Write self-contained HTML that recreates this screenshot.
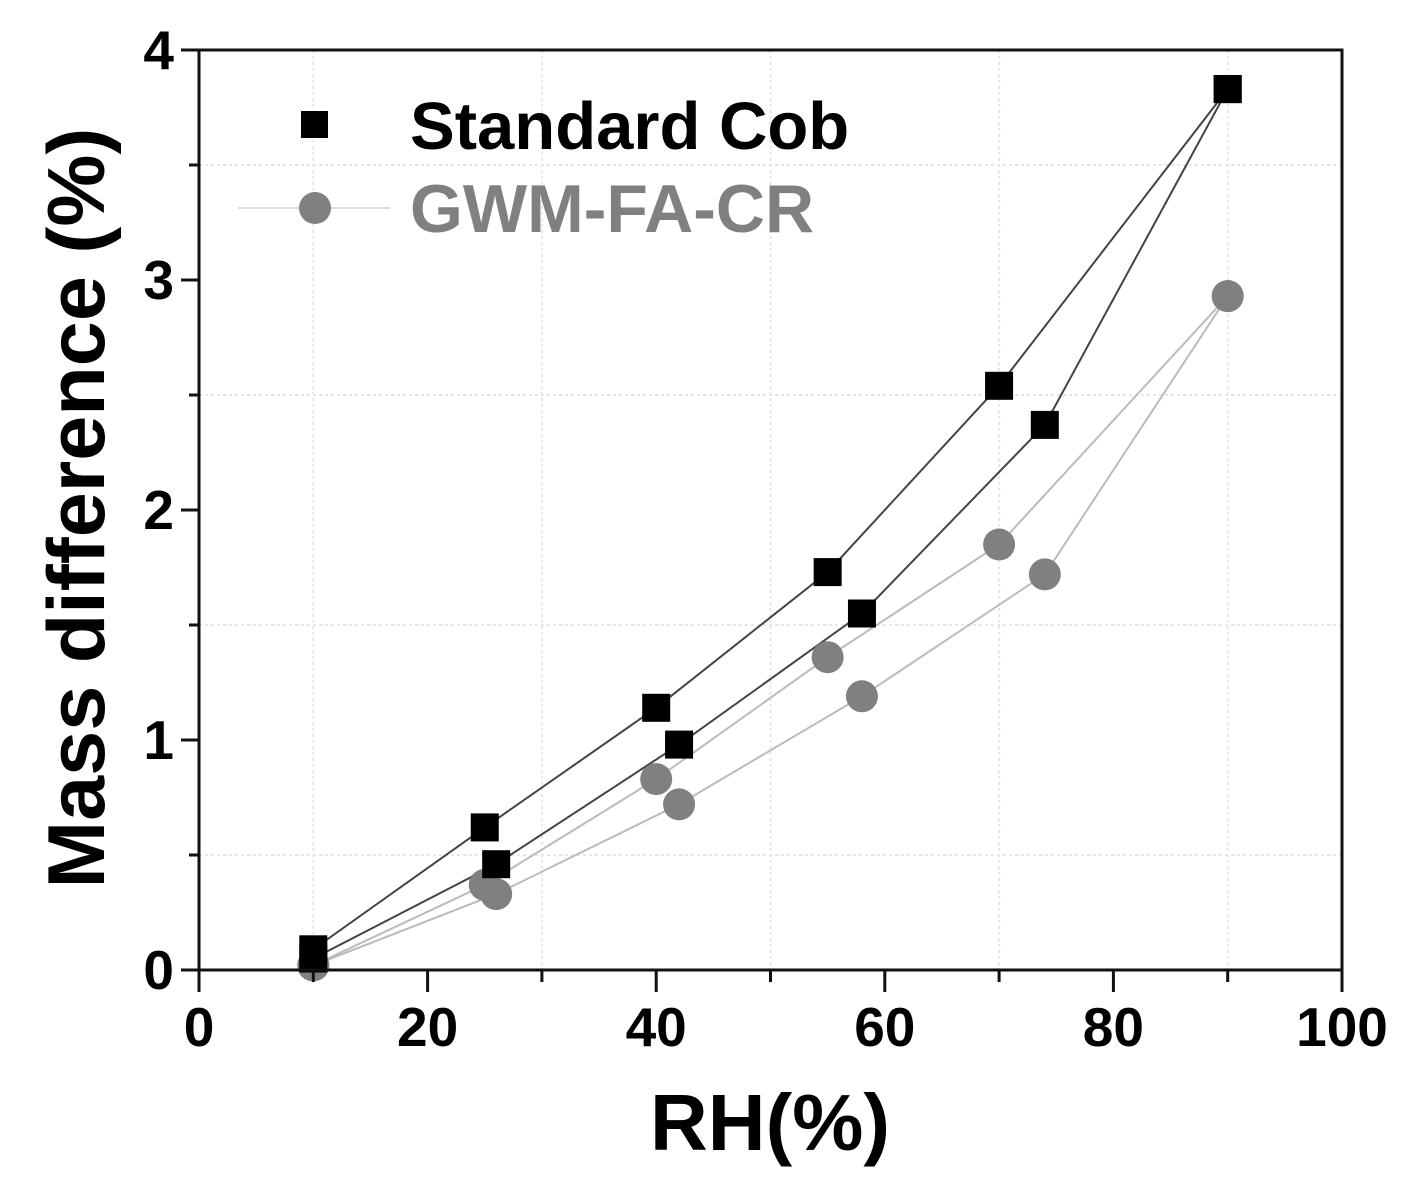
<!DOCTYPE html>
<html><head><meta charset="utf-8"><style>
html,body{margin:0;padding:0;background:#fff;}
svg{display:block;font-family:"Liberation Sans",Arial,sans-serif;font-weight:bold;}
</style></head><body>
<svg id="chart" width="1419" height="1192" viewBox="0 0 1419 1192">
<g id="grid"></g>
<g id="lines"></g>
<g id="marks"></g>
<g id="axes"></g>
<text x="770" y="1150" text-anchor="middle" font-size="80">RH(%)</text>
<text transform="translate(104,508) rotate(-90)" text-anchor="middle" font-size="81">Mass difference (%)</text>
<g>
<g>
<rect x="301" y="111" width="27" height="27" fill="#000"/>
<text x="410" y="149" font-size="67" fill="#000">Standard Cob</text>
</g>
<g>
<line x1="238" y1="208" x2="390" y2="208" stroke="#ddd" stroke-width="2"/>
<circle cx="315" cy="208" r="16" fill="#808080"/>
<text x="410" y="232" font-size="68" fill="#808080">GWM-FA-CR</text>
</g>
</g>
</svg>
<script>
const cobAdsX=[10,25,40,55,70,90];
const cobAdsY=[0.09,0.62,1.14,1.73,2.54,3.83];
const cobDesX=[10,26,42,58,74,90];
const cobDesY=[0.05,0.46,0.98,1.55,2.37,3.83];
const gwmAdsX=[10,25,40,55,70,90];
const gwmAdsY=[0.02,0.37,0.83,1.36,1.85,2.93];
const gwmDesX=[10,26,42,58,74,90];
const gwmDesY=[0.02,0.33,0.72,1.19,1.72,2.93];
const xTicks=[0,20,40,60,80,100];
const yTicks=[0,1,2,3,4];
const X0=199,X1=1342,Y0=970,Y1=50;
function sx(v){return X0+(v/100)*(X1-X0);}
function sy(v){return Y0-(v/4)*(Y0-Y1);}
const NS="http://www.w3.org/2000/svg";
function mk(tag,attrs,parent){const e=document.createElementNS(NS,tag);for(const k in attrs)e.setAttribute(k,attrs[k]);parent.appendChild(e);return e;}
const grid=document.getElementById('grid'),lines=document.getElementById('lines'),marks=document.getElementById('marks'),axes=document.getElementById('axes');
for(let v=10;v<100;v+=20){const l=mk('line',{x1:sx(v),x2:sx(v),y1:Y1,y2:Y0,stroke:'#e6e6e6','stroke-width':2,'stroke-dasharray':'3,3'},grid);

}
for(let v=0.5;v<4;v+=1){const l=mk('line',{x1:X0,x2:X1,y1:sy(v),y2:sy(v),stroke:'#e6e6e6','stroke-width':2,'stroke-dasharray':'3,3'},grid);

}
function series(xs,ys,col,kind,name){
const pts=xs.map((x,i)=>sx(x)+','+sy(ys[i])).join(' ');
const pl=mk('polyline',{points:pts,fill:'none',stroke:col,'stroke-width':2},lines);


xs.forEach((x,i)=>{let m;
if(kind==='sq'){m=mk('rect',{x:sx(x)-14,y:sy(ys[i])-14,width:28,height:28,fill:'#000'},marks);}
else{m=mk('circle',{cx:sx(x),cy:sy(ys[i]),r:16,fill:'#808080'},marks);}

});
}
series(gwmAdsX,gwmAdsY,'#bbb','c','gwm-adsorption');
series(gwmDesX,gwmDesY,'#bbb','c','gwm-desorption');
series(cobAdsX,cobAdsY,'#444','sq','cob-adsorption');
series(cobDesX,cobDesY,'#444','sq','cob-desorption');
const fr=mk('rect',{x:X0,y:Y1,width:X1-X0,height:Y0-Y1,fill:'none',stroke:'#111','stroke-width':3},axes);


for(let v=0;v<=100;v+=10){const major=v%20===0;
const t=mk('line',{x1:sx(v),x2:sx(v),y1:Y0,y2:Y0+(major?22:12),stroke:'#111','stroke-width':3},axes);

}
xTicks.forEach(v=>{const t=mk('text',{x:sx(v),y:1046,'text-anchor':'middle','font-size':55},axes);t.textContent=v;

});
for(let v=0;v<=4;v+=0.5){const major=Number.isInteger(v);
const t=mk('line',{x1:X0-(major?18:10),x2:X0,y1:sy(v),y2:sy(v),stroke:'#111','stroke-width':3},axes);

}
yTicks.forEach(v=>{const t=mk('text',{x:174,y:sy(v)+19,'text-anchor':'end','font-size':55},axes);t.textContent=v;

});
</script>
</body></html>
